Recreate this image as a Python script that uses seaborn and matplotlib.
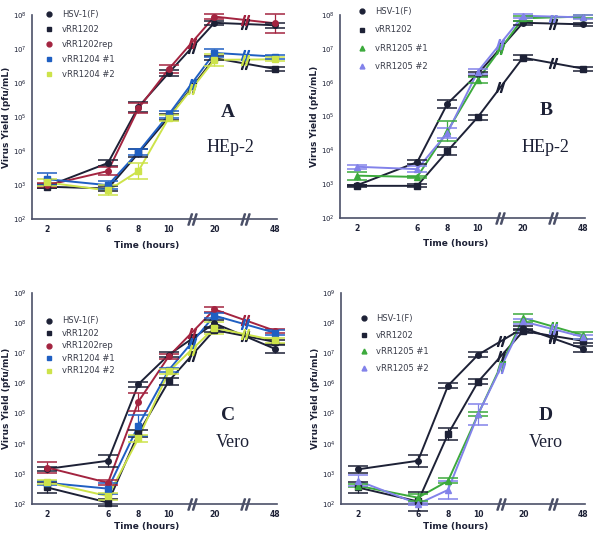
import numpy as np
import matplotlib
matplotlib.use("Agg")
import matplotlib.pyplot as plt
from matplotlib.lines import Line2D
import seaborn as sns

sns.set_style("white")
plt.rcParams['font.family'] = ['DejaVu Sans']

# time points and their (broken) axis positions
times = [2, 6, 8, 10, 20, 48]
tick_pos = [0, 4, 6, 8, 11, 15]
breaks = [9.5, 13]

# Panel A - HEp-2
a_hsv = [9.2e2, 4.5e3, 2.0e5, 2.0e6, 5.9e7, 5.0e7]
a_1202 = [9.0e2, 8.0e2, 8.7e3, 1.0e5, 5.4e6, 2.6e6]
a_rep = [1.0e3, 2.6e3, 1.8e5, 2.6e6, 9.0e7, 5.7e7]
a_1204_1 = [1.5e3, 1.0e3, 9.5e3, 1.2e5, 7.7e6, 6.0e6]
a_1204_2 = [1.2e3, 7.0e2, 2.6e3, 9.5e4, 4.8e6, 5.0e6]

# Panel B - HEp-2
b_hsv = [9.3e2, 4.5e3, 2.4e5, 1.8e6, 5.9e7, 5.3e7]
b_1202 = [9.0e2, 9.0e2, 9.5e3, 9.5e4, 5.5e6, 2.6e6]
b_1205_1 = [1.8e3, 1.65e3, 3.7e4, 1.2e6, 8.0e7, 9.0e7]
b_1205_2 = [3.3e3, 2.8e3, 3.3e4, 2.1e6, 9.5e7, 8.5e7]

# Panel C - Vero
c_hsv = [1.45e3, 2.7e3, 9.5e5, 9.0e6, 1.0e8, 1.4e7]
c_1202 = [3.5e2, 1.1e2, 2.2e4, 1.2e6, 6.0e7, 2.4e7]
c_rep = [1.6e3, 5.0e2, 2.5e5, 8.0e6, 2.9e8, 5.6e7]
c_1204_1 = [5.0e2, 3.2e2, 4.0e4, 2.8e6, 1.8e8, 4.8e7]
c_1204_2 = [5.2e2, 1.8e2, 1.5e4, 2.5e6, 7.0e7, 2.7e7]

# Panel D - Vero
d_hsv = [1.4e3, 2.7e3, 8.5e5, 9.0e6, 7.0e7, 1.4e7]
d_1202 = [3.5e2, 1.2e2, 2.1e4, 1.15e6, 5.5e7, 2.6e7]
d_1205_1 = [4.0e2, 1.6e2, 5.8e2, 9.5e4, 1.5e8, 4.0e7]
d_1205_2 = [5.9e2, 1.0e2, 2.9e2, 9.5e4, 1.15e8, 3.5e7]

# error bars as multiplicative factors (value/f .. value*f)
a_err = {
    "hsv": [1.15, 1.2, 1.4, 1.2, 1.15, 1.2],
    "1202": [1.1, 1.2, 1.3, 1.2, 1.15, 1.15],
    "rep": [1.15, 1.3, 1.4, 1.3, 1.15, 1.9],
    "1204_1": [1.5, 1.3, 1.2, 1.3, 1.3, 1.15],
    "1204_2": [1.3, 1.4, 1.7, 1.2, 1.5, 1.15],
}
b_err = {
    "hsv": [1.05, 1.15, 1.3, 1.15, 1.15, 1.1],
    "1202": [1.05, 1.1, 1.3, 1.2, 1.2, 1.15],
    "1205_1": [1.3, 1.1, 2.0, 1.2, 1.2, 1.1],
    "1205_2": [1.15, 1.2, 1.4, 1.2, 1.15, 1.15],
}
c_err = {
    "hsv": [1.2, 1.6, 1.2, 1.2, 1.3, 1.4],
    "1202": [1.5, 1.3, 1.3, 1.3, 1.2, 1.2],
    "rep": [1.5, 1.2, 2.0, 1.2, 1.2, 1.15],
    "1204_1": [1.15, 1.5, 2.3, 1.2, 1.2, 1.2],
    "1204_2": [1.15, 1.3, 1.3, 1.2, 1.6, 1.2],
}
d_err = {
    "hsv": [1.3, 1.6, 1.2, 1.2, 1.15, 1.3],
    "1202": [1.5, 2.0, 1.6, 1.2, 1.15, 1.2],
    "1205_1": [1.1, 1.3, 1.2, 1.15, 1.4, 1.3],
    "1205_2": [1.5, 1.1, 2.0, 2.2, 1.2, 1.2],
}

dark = "#1d2136"
red = "#a32440"
blue = "#1f5fc2"
ygreen = "#cde34a"
green = "#3caa3c"
violet = "#8282ea"
axis_col = "#4b5068"

fig = plt.figure(figsize=(6.03, 5.36), dpi=100)


def draw_panel(rect, xlim, ymax, series, letter, cell, txt_pos, leg_anchor, leg_space, xlab_y):
    ax = fig.add_axes(rect)
    for label, vals, errs, col, mk in series:
        vals = np.array(vals)
        errs = np.array(errs)
        sns.lineplot(x=tick_pos, y=vals, color=col, lw=1.4, ax=ax, legend=False)
        ax.errorbar(tick_pos, vals, yerr=[vals - vals / errs, vals * errs - vals],
                    fmt="none", ecolor=col, elinewidth=0.9, capsize=7, capthick=1.1,
                    clip_on=False, zorder=3)
        ax.plot(tick_pos, vals, ls="none", marker=mk, ms=4, color=col, zorder=4, clip_on=False)
        # break marks on the line
        lv = np.log10(vals)
        for xb in breaks:
            yb = 10 ** np.interp(xb, tick_pos, lv)
            ax.plot(xb, yb, marker=r"$//$", ms=7, color=col, ls="none", zorder=4)
    ax.set_yscale("log")
    ax.set_xlim(*xlim)
    ax.set_ylim(1e2, ymax)
    ax.set_xticks(tick_pos)
    ax.set_xticklabels([str(t) for t in times])
    ax.set_yticks([10 ** k for k in range(2, int(np.log10(ymax)) + 1)])
    ax.minorticks_off()
    ax.tick_params(axis="both", direction="inout", length=5, width=0.9, colors=axis_col,
                   labelsize=5.5, labelcolor=dark, pad=2)
    ax.tick_params(axis="y", labelsize=5, pad=1.5)
    for lab in ax.get_xticklabels():
        lab.set_fontweight("bold")
    for s in ["top", "right"]:
        ax.spines[s].set_visible(False)
    for s in ["left", "bottom"]:
        ax.spines[s].set_color(axis_col)
        ax.spines[s].set_linewidth(1.2)
    for xb in breaks:
        ax.plot(xb, 1e2, marker=r"$//$", ms=8, color=axis_col, clip_on=False, zorder=5)
    ax.set_xlabel("Time (hours)", fontsize=6.5, fontweight="bold", color=dark)
    ax.xaxis.set_label_coords(0.47, xlab_y)
    ax.set_ylabel("Virus Yield (pfu/mL)", fontsize=6.5, fontweight="bold", color=dark)
    ax.yaxis.set_label_coords(-0.086, 0.5)
    (lx, ly), (cx, cy) = txt_pos
    ax.text(lx, ly, letter, transform=ax.transAxes, family="Liberation Serif",
            fontweight="bold", fontsize=14, color=dark, ha="center", va="center")
    ax.text(cx, cy, cell, transform=ax.transAxes, family="Liberation Serif",
            fontsize=13, color=dark, ha="center", va="center")
    handles = [Line2D([], [], ls="none", marker=mk, ms=3.5, color=col)
               for _, _, _, col, mk in series]
    labels = [s[0] for s in series]
    ax.legend(handles, labels, loc="upper left", bbox_to_anchor=leg_anchor, frameon=False,
              fontsize=6, labelcolor="#3a3d4a", labelspacing=leg_space,
              handletextpad=0.9, handlelength=1.2)
    return ax


series_a = [
    ("HSV-1(F)", a_hsv, a_err["hsv"], dark, "o"),
    ("vRR1202", a_1202, a_err["1202"], dark, "s"),
    ("vRR1202rep", a_rep, a_err["rep"], red, "o"),
    ("vRR1204 #1", a_1204_1, a_err["1204_1"], blue, "s"),
    ("vRR1204 #2", a_1204_2, a_err["1204_2"], ygreen, "s"),
]
series_b = [
    ("HSV-1(F)", b_hsv, b_err["hsv"], dark, "o"),
    ("vRR1202", b_1202, b_err["1202"], dark, "s"),
    ("vRR1205 #1", b_1205_1, b_err["1205_1"], green, "^"),
    ("vRR1205 #2", b_1205_2, b_err["1205_2"], violet, "^"),
]
series_c = [
    ("HSV-1(F)", c_hsv, c_err["hsv"], dark, "o"),
    ("vRR1202", c_1202, c_err["1202"], dark, "s"),
    ("vRR1202rep", c_rep, c_err["rep"], red, "o"),
    ("vRR1204 #1", c_1204_1, c_err["1204_1"], blue, "s"),
    ("vRR1204 #2", c_1204_2, c_err["1204_2"], ygreen, "s"),
]
series_d = [
    ("HSV-1(F)", d_hsv, d_err["hsv"], dark, "o"),
    ("vRR1202", d_1202, d_err["1202"], dark, "s"),
    ("vRR1205 #1", d_1205_1, d_err["1205_1"], green, "^"),
    ("vRR1205 #2", d_1205_2, d_err["1205_2"], violet, "^"),
]

draw_panel([0.053, 0.591, 0.406, 0.381], (-1.0, 15.1), 1e8, series_a, "A", "HEp-2",
           ((0.80, 0.525), (0.81, 0.35)), (0.02, 1.06), 0.72, -0.105)
draw_panel([0.564, 0.593, 0.406, 0.379], (-1.1, 15.1), 1e8, series_b, "B", "HEp-2",
           ((0.84, 0.53), (0.84, 0.35)), (0.04, 1.075), 1.1, -0.105)
draw_panel([0.053, 0.060, 0.406, 0.393], (-1.0, 15.1), 1e9, series_c, "C", "Vero",
           ((0.80, 0.42), (0.82, 0.29)), (0.02, 0.925), 0.42, -0.085)
draw_panel([0.566, 0.060, 0.404, 0.393], (-1.1, 15.1), 1e9, series_d, "D", "Vero",
           ((0.84, 0.42), (0.84, 0.29)), (0.04, 0.935), 0.9, -0.085)

fig.savefig("out.png", dpi=100)
